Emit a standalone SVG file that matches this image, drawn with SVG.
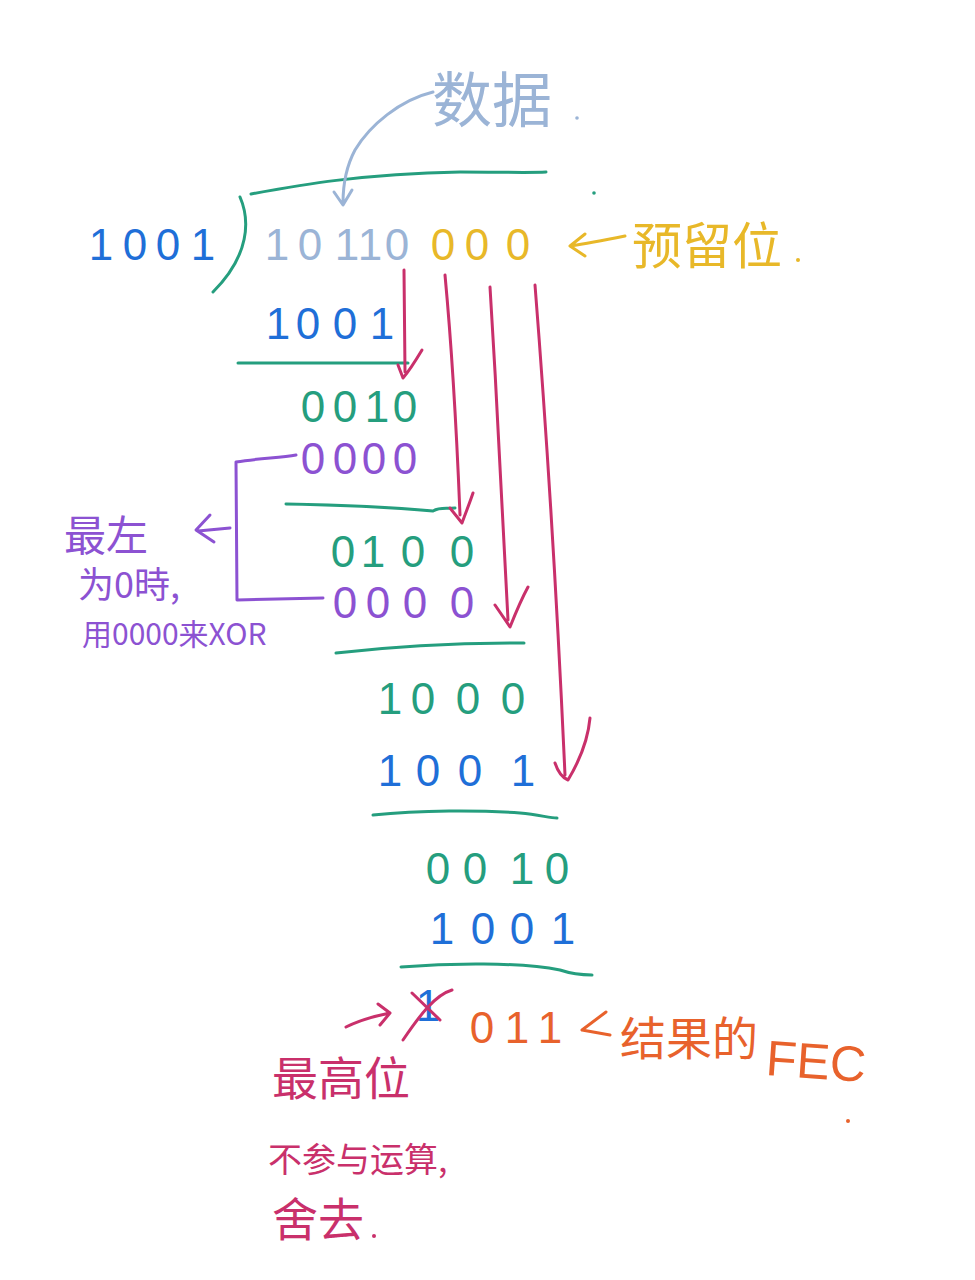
<svg xmlns="http://www.w3.org/2000/svg" width="975" height="1280" viewBox="0 0 975 1280">
<style>
.d{font-family:"Liberation Sans","DejaVu Sans",sans-serif;font-size:44px;text-anchor:middle}
.cn{font-family:"Noto Sans CJK SC","Liberation Sans",sans-serif}
.blue{fill:#1f6fd8}.gray{fill:#9bb4d6}.yel{fill:#e8b829}.grn{fill:#259e7e}.pur{fill:#8c52d2}.mag{fill:#c9306b}.org{fill:#e8622c}
.ln{fill:none;stroke-width:3;stroke-linecap:round;stroke-linejoin:round}
</style>
<rect width="975" height="1280" fill="#ffffff"/>

<g id="label-data">
<text class="cn gray" x="432" y="122" font-size="60">数据</text>
<circle cx="577" cy="118" r="1.8" fill="#9bb4d6"/>
</g>

<g id="divisor">
<text class="d blue" x="101 135 168 203" y="260" font-size="50">1001</text>
</g>

<g id="bracket">
<path class="ln" stroke="#259e7e" d="M240 197 C250 220 250 255 213 292"/>
<path class="ln" stroke="#259e7e" d="M251 194 C300 185 360 174 460 172 C500 172 530 173 546 172"/>
<circle cx="594" cy="193" r="1.8" fill="#259e7e"/>
</g>

<g id="dividend">
<text class="d gray" x="277 310 347 370 397" y="260" font-size="50">10110</text>
<text class="d yel" x="443 477 518" y="260" font-size="50">000</text>
</g>

<g id="label-reserved">
<path class="ln" stroke="#e8b829" d="M625 236 C605 240 590 243 570 246 M585 234 L570 246 L585 256"/>
<text class="cn yel" x="632" y="264" font-size="50">预留位</text>
<circle cx="798" cy="260" r="2" fill="#e8b829"/>
</g>

<g id="step1">
<text class="d blue" x="278 308 345 382" y="339">1001</text>
<path class="ln" stroke="#259e7e" d="M238 363 L408 363"/>
<text class="d grn" x="313 345 377 405" y="422">0010</text>
</g>

<g id="step2">
<text class="d pur" x="313 345 374 405" y="474">0000</text>
<path class="ln" stroke="#259e7e" d="M286 504 C340 505 400 508 433 511 C440 507 445 509 455 508"/>
<text class="d grn" x="343 373 413 462" y="567">0100</text>
</g>

<g id="step3">
<text class="d pur" x="345 378 415 462" y="618">0000</text>
<path class="ln" stroke="#259e7e" d="M336 653 C380 648 440 643 524 643"/>
<text class="d grn" x="390 423 468 513" y="714">1000</text>
</g>

<g id="step4">
<text class="d blue" x="390 428 470 523" y="786">1001</text>
<path class="ln" stroke="#259e7e" d="M373 815 C420 810 480 810 520 813 C540 815 550 818 557 818"/>
<text class="d grn" x="438 475 522 557" y="884">0010</text>
</g>

<g id="step5">
<text class="d blue" x="442 483 522 563" y="944">1001</text>
<path class="ln" stroke="#259e7e" d="M401 967 C450 963 520 962 560 970 C575 975 585 975 592 975"/>
</g>

<g id="result">
<text class="d blue" x="428" y="1021" font-size="38">1</text>
<path class="ln" stroke="#c9306b" d="M412 993 L440 1020 M403 1040 C420 1015 435 995 452 990"/>
<text class="d org" x="482 517 550" y="1043" font-size="48">011</text>
</g>

<g id="label-fec">
<path class="ln" stroke="#e8622c" d="M606 1012 L582 1030 L610 1035"/>
<text class="cn org" x="620" y="1055" font-size="46">结果的</text>
<text class="org" x="765" y="1075" font-family="Liberation Sans, sans-serif" font-size="50" transform="rotate(4 765 1075)">FEC</text>
<circle cx="848" cy="1121" r="2" fill="#e8622c"/>
</g>

<g id="label-leftmost">
<text class="cn pur" x="64" y="551" font-size="42">最左</text>
<text class="cn pur" x="78" y="598" font-size="36">为0時,</text>
<text class="cn pur" x="82" y="645" font-size="30">用0000来XOR</text>
</g>

<g id="label-msb">
<text class="cn mag" x="272" y="1095" font-size="46">最高位</text>
<text class="cn mag" x="268" y="1172" font-size="34">不参与运算,</text>
<text class="cn mag" x="272" y="1236" font-size="46">舍去</text>
<circle cx="374" cy="1236" r="2" fill="#c9306b"/>
</g>

<g id="connectors">
<path class="ln" stroke="#9bb4d6" d="M433 92 C400 100 370 125 355 150 C347 165 343 185 343 203 M334 192 L343 205 L352 190"/>
<path class="ln" stroke="#c9306b" d="M404 270 L405 372 M398 365 L403 378 C410 370 416 360 422 350"/>
<path class="ln" stroke="#c9306b" d="M445 275 C452 350 457 440 460 515 M450 508 L462 523 C466 512 470 502 473 493"/>
<path class="ln" stroke="#c9306b" d="M490 287 C497 400 503 520 508 620 M495 605 L510 627 C516 612 522 598 528 587"/>
<path class="ln" stroke="#c9306b" d="M535 285 C548 450 558 620 565 775 M555 763 C558 772 563 778 568 780 C580 760 588 740 590 718"/>
<path class="ln" stroke="#8c52d2" d="M296 455 C280 458 260 458 236 462 L237 600 L323 598"/>
<path class="ln" stroke="#8c52d2" d="M230 528 L198 531 M210 515 L196 530 L214 542"/>
<path class="ln" stroke="#c9306b" d="M346 1027 C360 1020 375 1016 390 1013 M378 1004 L390 1013 L380 1025"/>
</g>
</svg>
